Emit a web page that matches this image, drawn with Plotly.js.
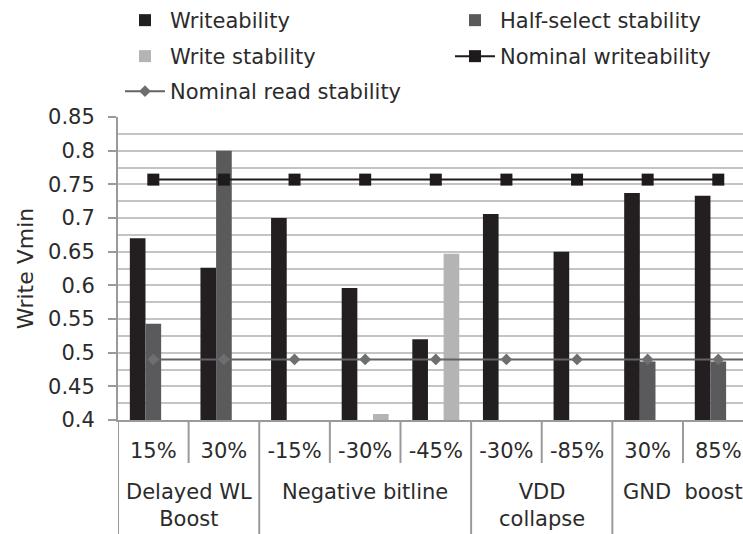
<!DOCTYPE html>
<html>
<head>
<meta charset="utf-8">
<script src="https://cdn.plot.ly/plotly-3.0.1.min.js"></script>
<style>
html,body{margin:0;padding:0;background:#fff;}
#chart{width:743px;height:534px;}
</style>
</head>
<body>
<div id="chart"></div>
<script>
// ---- data ----
const groupLabels = ["Delayed WL<br>Boost", "Negative bitline", "VDD<br>collapse", "GND&nbsp;&nbsp;boost"];
const groupSizes = [2, 3, 2, 2];
const subLabels = ["15%", "30%", "-15%", "-30%", "-45%", "-30%", "-85%", "30%", "85%"];
const writeability   = [0.670, 0.626, 0.700, 0.596, 0.520, 0.706, 0.650, 0.737, 0.733];
const halfSelect     = [0.543, 0.800, null, null, null, null, null, 0.487, 0.487];
const writeStability = [null, null, null, 0.409, 0.647, null, null, null, null];
const nominalWrite   = [0.757, 0.757, 0.757, 0.757, 0.757, 0.757, 0.757, 0.757, 0.757];
// the read-stability line continues past the cropped right edge
const nominalRead    = [0.490, 0.490, 0.490, 0.490, 0.490, 0.490, 0.490, 0.490, 0.490, 0.490];

const idx = subLabels.map((_, i) => i);
const idxRead = nominalRead.map((_, i) => i);

const txt = '#2b2b2b';
const axisGrey = '#9a9a9a';
const gridGrey = '#c4c4c4';
const fontFam = 'DejaVu Sans, Verdana, sans-serif';
const FS = 21;

const traces = [
  {type: 'bar', name: 'Writeability', x: idx, y: writeability,
   marker: {color: '#231f20'}, legend: 'legend'},
  {type: 'bar', name: 'Half-select stability', x: idx, y: halfSelect,
   marker: {color: '#5a5a5c'}, legend: 'legend2'},
  {type: 'bar', name: 'Write stability', x: idx, y: writeStability,
   marker: {color: '#b4b4b4'}, legend: 'legend3'},
  {type: 'scatter', mode: 'lines+markers', name: 'Nominal writeability', x: idx, y: nominalWrite,
   line: {color: '#1f1b1c', width: 2}, marker: {symbol: 'square', size: 12, color: '#1f1b1c'},
   legend: 'legend4', cliponaxis: true},
  {type: 'scatter', mode: 'lines+markers', name: 'Nominal read stability', x: idxRead, y: nominalRead,
   line: {color: '#636365', width: 2}, marker: {symbol: 'diamond', size: 9, color: '#6e6e70'},
   legend: 'legend5', cliponaxis: true}
];

// group boundaries and centres derived from groupSizes
const xRange = [-0.5, 8.35];
let start = 0;
const shapes = [];
const annotations = [];
const groupBounds = [];
groupSizes.forEach((n, g) => {
  groupBounds.push(start - 0.5);
  annotations.push({
    x: start + (n - 1) / 2, xref: 'x', y: -0.19, yref: 'paper',
    yanchor: 'top', xanchor: 'center', showarrow: false,
    text: groupLabels[g], font: {family: fontFam, size: FS, color: txt}, align: 'center'
  });
  start += n;
});
groupBounds.forEach(b => {
  shapes.push({type: 'line', xref: 'x', yref: 'paper', x0: b, x1: b, y0: 0, y1: -0.38,
               line: {color: axisGrey, width: 2}});
});
const innerBounds = [];
for (let i = 0; i < subLabels.length; i++) {
  const b = i + 0.5;
  if (!groupBounds.includes(b) && b < xRange[1]) innerBounds.push(b);
}
innerBounds.forEach(b => {
  shapes.push({type: 'line', xref: 'x', yref: 'paper', x0: b, x1: b, y0: 0, y1: -0.142,
               line: {color: axisGrey, width: 2}});
});

function leg(x, ytop) {
  return {x: x, xanchor: 'left', y: ytop, yanchor: 'top', orientation: 'h',
          bgcolor: 'rgba(0,0,0,0)', font: {family: fontFam, size: FS, color: txt}, itemwidth: 40};
}
const H = 303;
const py = p => (420 - p) / H;
const px = p => (p - 118) / 625;

const layout = {
  width: 743, height: 534,
  margin: {l: 118, r: 0, t: 117, b: 114, pad: 0},
  paper_bgcolor: '#fff', plot_bgcolor: '#fff',
  font: {family: fontFam, size: FS, color: txt},
  barmode: 'group', bargap: 0.335, bargroupgap: 0,
  xaxis: {
    type: 'linear', range: xRange, tickmode: 'array', tickvals: idx, ticktext: subLabels,
    ticks: '', showgrid: false, zeroline: false, showline: true, linecolor: axisGrey, linewidth: 2,
    tickfont: {family: fontFam, size: FS, color: txt}, ticklabelstandoff: 11, automargin: false,
    fixedrange: true
  },
  yaxis: {
    range: [0.4, 0.85], dtick: 0.05, tick0: 0.4, ticks: 'outside', ticklen: 8, tickwidth: 2,
    tickcolor: axisGrey, showline: true, linecolor: axisGrey, linewidth: 2,
    showgrid: true, gridcolor: gridGrey, gridwidth: 2, zeroline: false,
    minor: {dtick: 0.025, tick0: 0.4, showgrid: true, gridcolor: gridGrey, gridwidth: 2, ticks: ''},
    tickfont: {family: fontFam, size: FS, color: txt}, ticklabelstandoff: 9,
    title: {text: 'Write Vmin', font: {family: fontFam, size: FS + 1, color: txt}, standoff: 8},
    automargin: false, fixedrange: true
  },
  legend: leg(px(120), py(0)),
  legend2: leg(px(450), py(0)),
  legend3: leg(px(120), py(36)),
  legend4: leg(px(450), py(36)),
  legend5: leg(px(120), py(71)),
  shapes: shapes,
  annotations: annotations,
  showlegend: true
};

Plotly.newPlot('chart', traces, layout, {displayModeBar: false, staticPlot: true});
</script>
</body>
</html>
